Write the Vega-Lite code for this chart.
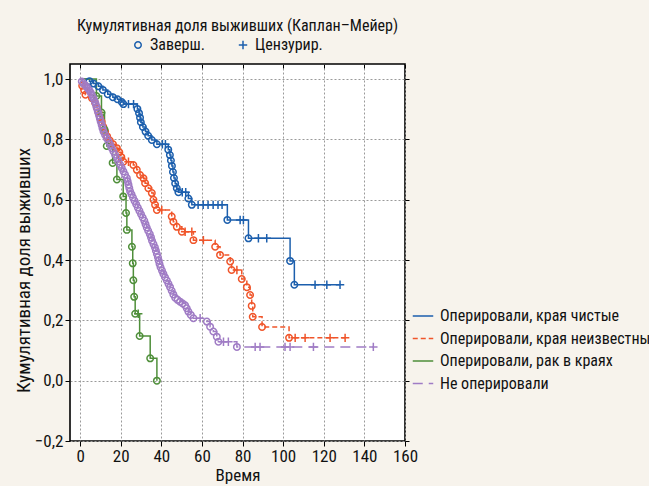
{
  "$schema": "https://vega.github.io/schema/vega-lite/v6.json",
  "width": 335,
  "height": 377,
  "autosize": {"type": "none"},
  "padding": {"left": 70, "top": 64, "right": 244, "bottom": 45},
  "background": "#f7f3ec",
  "config": {
    "font": "Roboto Condensed, Roboto, sans-serif",
    "view": {"fill": "#ffffff", "stroke": "#000000", "strokeWidth": 1.6},
    "axis": {
      "domain": false,
      "tickSize": 5,
      "tickColor": "#000000",
      "tickWidth": 1,
      "labelFontSize": 17,
      "labelColor": "#111111",
      "labelPadding": 2,
      "labelOverlap": false,
      "labelFlush": false,
      "titleFontSize": 17,
      "titleFontWeight": "normal",
      "titleColor": "#111111",
      "gridColor": "#9a9a9a",
      "gridDash": [2, 2],
      "gridWidth": 1
    }
  },
  "title": {
    "text": "Кумулятивная доля выживших (Каплан–Мейер)",
    "fontSize": 16,
    "fontWeight": "normal",
    "color": "#111111",
    "anchor": "middle",
    "offset": 3
  },
  "data": {
    "values": [
      {"g":"A","t":0,"s":1,"k":"s"},
      {"g":"A","t":4.6,"s":0.993,"k":"e"},
      {"g":"A","t":6.6,"s":0.985,"k":"e"},
      {"g":"A","t":9.0,"s":0.976,"k":"e"},
      {"g":"A","t":11.2,"s":0.964,"k":"e"},
      {"g":"A","t":13.6,"s":0.95,"k":"e"},
      {"g":"A","t":16.1,"s":0.94,"k":"e"},
      {"g":"A","t":18.4,"s":0.933,"k":"e"},
      {"g":"A","t":20.5,"s":0.924,"k":"e"},
      {"g":"A","t":21.3,"s":0.917,"k":"e"},
      {"g":"A","t":23.8,"s":0.917,"k":"c"},
      {"g":"A","t":26.3,"s":0.917,"k":"c"},
      {"g":"A","t":28.2,"s":0.901,"k":"e"},
      {"g":"A","t":29.0,"s":0.887,"k":"e"},
      {"g":"A","t":29.5,"s":0.872,"k":"e"},
      {"g":"A","t":29.9,"s":0.857,"k":"e"},
      {"g":"A","t":30.9,"s":0.841,"k":"e"},
      {"g":"A","t":32.2,"s":0.826,"k":"e"},
      {"g":"A","t":33.5,"s":0.812,"k":"e"},
      {"g":"A","t":35.3,"s":0.798,"k":"e"},
      {"g":"A","t":37.8,"s":0.784,"k":"e"},
      {"g":"A","t":40.5,"s":0.784,"k":"c"},
      {"g":"A","t":42.0,"s":0.784,"k":"c"},
      {"g":"A","t":43.4,"s":0.766,"k":"e"},
      {"g":"A","t":44.2,"s":0.748,"k":"e"},
      {"g":"A","t":44.7,"s":0.73,"k":"e"},
      {"g":"A","t":45.2,"s":0.712,"k":"e"},
      {"g":"A","t":45.7,"s":0.692,"k":"e"},
      {"g":"A","t":46.2,"s":0.672,"k":"e"},
      {"g":"A","t":46.8,"s":0.654,"k":"e"},
      {"g":"A","t":47.6,"s":0.638,"k":"e"},
      {"g":"A","t":48.4,"s":0.625,"k":"e"},
      {"g":"A","t":50.3,"s":0.625,"k":"c"},
      {"g":"A","t":52.0,"s":0.625,"k":"c"},
      {"g":"A","t":53.3,"s":0.604,"k":"e"},
      {"g":"A","t":55.0,"s":0.583,"k":"e"},
      {"g":"A","t":58.1,"s":0.583,"k":"c"},
      {"g":"A","t":60.6,"s":0.583,"k":"c"},
      {"g":"A","t":63.0,"s":0.583,"k":"c"},
      {"g":"A","t":65.5,"s":0.583,"k":"c"},
      {"g":"A","t":67.9,"s":0.583,"k":"c"},
      {"g":"A","t":69.9,"s":0.583,"k":"c"},
      {"g":"A","t":72.5,"s":0.533,"k":"e"},
      {"g":"A","t":78.8,"s":0.533,"k":"c"},
      {"g":"A","t":80.4,"s":0.533,"k":"c"},
      {"g":"A","t":82.9,"s":0.472,"k":"e"},
      {"g":"A","t":87.8,"s":0.472,"k":"c"},
      {"g":"A","t":91.9,"s":0.472,"k":"c"},
      {"g":"A","t":103.4,"s":0.397,"k":"e"},
      {"g":"A","t":105.5,"s":0.318,"k":"e"},
      {"g":"A","t":115.7,"s":0.318,"k":"c"},
      {"g":"A","t":121.5,"s":0.318,"k":"c"},
      {"g":"A","t":128.0,"s":0.318,"k":"c"},

      {"g":"B","t":0,"s":1,"k":"s"},
      {"g":"B","t":1.0,"s":0.978,"k":"e"},
      {"g":"B","t":2.0,"s":0.963,"k":"e"},
      {"g":"B","t":2.6,"s":0.948,"k":"e"},
      {"g":"B","t":5.8,"s":0.937,"k":"e"},
      {"g":"B","t":7.3,"s":0.922,"k":"e"},
      {"g":"B","t":8.2,"s":0.906,"k":"e"},
      {"g":"B","t":9.0,"s":0.89,"k":"e"},
      {"g":"B","t":9.8,"s":0.874,"k":"e"},
      {"g":"B","t":10.6,"s":0.858,"k":"e"},
      {"g":"B","t":11.4,"s":0.842,"k":"e"},
      {"g":"B","t":12.3,"s":0.826,"k":"e"},
      {"g":"B","t":13.3,"s":0.81,"k":"e"},
      {"g":"B","t":14.6,"s":0.796,"k":"e"},
      {"g":"B","t":16.2,"s":0.784,"k":"e"},
      {"g":"B","t":18.1,"s":0.771,"k":"e"},
      {"g":"B","t":19.3,"s":0.757,"k":"e"},
      {"g":"B","t":20.3,"s":0.741,"k":"e"},
      {"g":"B","t":21.3,"s":0.726,"k":"e"},
      {"g":"B","t":23.8,"s":0.726,"k":"c"},
      {"g":"B","t":26.2,"s":0.715,"k":"e"},
      {"g":"B","t":27.9,"s":0.699,"k":"e"},
      {"g":"B","t":29.5,"s":0.682,"k":"e"},
      {"g":"B","t":31.2,"s":0.671,"k":"e"},
      {"g":"B","t":32.0,"s":0.655,"k":"e"},
      {"g":"B","t":33.6,"s":0.638,"k":"e"},
      {"g":"B","t":35.3,"s":0.622,"k":"e"},
      {"g":"B","t":36.1,"s":0.6,"k":"e"},
      {"g":"B","t":36.9,"s":0.583,"k":"e"},
      {"g":"B","t":37.8,"s":0.566,"k":"e"},
      {"g":"B","t":40.2,"s":0.566,"k":"c"},
      {"g":"B","t":45.1,"s":0.544,"k":"e"},
      {"g":"B","t":45.9,"s":0.527,"k":"e"},
      {"g":"B","t":47.6,"s":0.51,"k":"e"},
      {"g":"B","t":50.1,"s":0.494,"k":"e"},
      {"g":"B","t":51.7,"s":0.494,"k":"c"},
      {"g":"B","t":55.0,"s":0.494,"k":"c"},
      {"g":"B","t":55.8,"s":0.466,"k":"e"},
      {"g":"B","t":60.7,"s":0.466,"k":"c"},
      {"g":"B","t":66.5,"s":0.444,"k":"e"},
      {"g":"B","t":68.9,"s":0.417,"k":"e"},
      {"g":"B","t":73.9,"s":0.395,"k":"e"},
      {"g":"B","t":74.6,"s":0.367,"k":"e"},
      {"g":"B","t":77.2,"s":0.367,"k":"c"},
      {"g":"B","t":79.6,"s":0.337,"k":"e"},
      {"g":"B","t":82.1,"s":0.31,"k":"e"},
      {"g":"B","t":83.7,"s":0.284,"k":"e"},
      {"g":"B","t":84.5,"s":0.248,"k":"e"},
      {"g":"B","t":85.0,"s":0.212,"k":"e"},
      {"g":"B","t":89.6,"s":0.178,"k":"e"},
      {"g":"B","t":102.9,"s":0.142,"k":"e"},
      {"g":"B","t":105.9,"s":0.142,"k":"c"},
      {"g":"B","t":110.8,"s":0.142,"k":"c"},
      {"g":"B","t":123.1,"s":0.142,"k":"c"},
      {"g":"B","t":130.5,"s":0.142,"k":"c"},

      {"g":"C","t":0,"s":1,"k":"s"},
      {"g":"C","t":8.0,"s":0.944,"k":"e"},
      {"g":"C","t":10.5,"s":0.889,"k":"e"},
      {"g":"C","t":12.0,"s":0.833,"k":"e"},
      {"g":"C","t":13.1,"s":0.778,"k":"e"},
      {"g":"C","t":16.0,"s":0.722,"k":"e"},
      {"g":"C","t":18.1,"s":0.667,"k":"e"},
      {"g":"C","t":21.2,"s":0.611,"k":"e"},
      {"g":"C","t":22.6,"s":0.556,"k":"e"},
      {"g":"C","t":23.0,"s":0.5,"k":"e"},
      {"g":"C","t":25.5,"s":0.444,"k":"e"},
      {"g":"C","t":25.9,"s":0.389,"k":"e"},
      {"g":"C","t":26.2,"s":0.333,"k":"e"},
      {"g":"C","t":26.6,"s":0.278,"k":"e"},
      {"g":"C","t":27.1,"s":0.222,"k":"e"},
      {"g":"C","t":28.6,"s":0.222,"k":"c"},
      {"g":"C","t":29.3,"s":0.148,"k":"e"},
      {"g":"C","t":34.5,"s":0.074,"k":"e"},
      {"g":"C","t":37.8,"s":0.0,"k":"e"},

      {"g":"D","t":0,"s":1,"k":"s"},
      {"g":"D","t":0.8,"s":0.992,"k":"e"},
      {"g":"D","t":1.6,"s":0.986,"k":"e"},
      {"g":"D","t":2.4,"s":0.98,"k":"e"},
      {"g":"D","t":3.2,"s":0.974,"k":"e"},
      {"g":"D","t":3.9,"s":0.968,"k":"e"},
      {"g":"D","t":4.6,"s":0.962,"k":"e"},
      {"g":"D","t":5.2,"s":0.955,"k":"e"},
      {"g":"D","t":5.8,"s":0.948,"k":"e"},
      {"g":"D","t":6.3,"s":0.94,"k":"e"},
      {"g":"D","t":6.8,"s":0.932,"k":"e"},
      {"g":"D","t":7.3,"s":0.924,"k":"e"},
      {"g":"D","t":7.7,"s":0.916,"k":"e"},
      {"g":"D","t":8.1,"s":0.907,"k":"e"},
      {"g":"D","t":8.5,"s":0.898,"k":"e"},
      {"g":"D","t":8.9,"s":0.889,"k":"e"},
      {"g":"D","t":9.3,"s":0.879,"k":"e"},
      {"g":"D","t":9.7,"s":0.869,"k":"e"},
      {"g":"D","t":10.1,"s":0.859,"k":"e"},
      {"g":"D","t":10.6,"s":0.848,"k":"e"},
      {"g":"D","t":11.0,"s":0.837,"k":"e"},
      {"g":"D","t":11.5,"s":0.826,"k":"e"},
      {"g":"D","t":12.3,"s":0.815,"k":"e"},
      {"g":"D","t":13.1,"s":0.804,"k":"e"},
      {"g":"D","t":14.0,"s":0.793,"k":"e"},
      {"g":"D","t":14.8,"s":0.782,"k":"e"},
      {"g":"D","t":15.6,"s":0.771,"k":"e"},
      {"g":"D","t":16.4,"s":0.76,"k":"e"},
      {"g":"D","t":17.2,"s":0.749,"k":"e"},
      {"g":"D","t":18.1,"s":0.738,"k":"e"},
      {"g":"D","t":18.9,"s":0.727,"k":"e"},
      {"g":"D","t":19.7,"s":0.716,"k":"e"},
      {"g":"D","t":20.5,"s":0.705,"k":"e"},
      {"g":"D","t":21.3,"s":0.694,"k":"e"},
      {"g":"D","t":22.1,"s":0.683,"k":"e"},
      {"g":"D","t":23.0,"s":0.672,"k":"e"},
      {"g":"D","t":23.4,"s":0.661,"k":"e"},
      {"g":"D","t":23.8,"s":0.65,"k":"e"},
      {"g":"D","t":24.2,"s":0.639,"k":"e"},
      {"g":"D","t":24.6,"s":0.628,"k":"e"},
      {"g":"D","t":25.3,"s":0.618,"k":"e"},
      {"g":"D","t":26.0,"s":0.607,"k":"e"},
      {"g":"D","t":26.8,"s":0.596,"k":"e"},
      {"g":"D","t":27.6,"s":0.585,"k":"e"},
      {"g":"D","t":28.4,"s":0.574,"k":"e"},
      {"g":"D","t":29.2,"s":0.563,"k":"e"},
      {"g":"D","t":30.0,"s":0.552,"k":"e"},
      {"g":"D","t":30.8,"s":0.541,"k":"e"},
      {"g":"D","t":31.6,"s":0.53,"k":"e"},
      {"g":"D","t":32.2,"s":0.519,"k":"e"},
      {"g":"D","t":32.8,"s":0.508,"k":"e"},
      {"g":"D","t":33.5,"s":0.497,"k":"e"},
      {"g":"D","t":34.3,"s":0.486,"k":"e"},
      {"g":"D","t":34.9,"s":0.475,"k":"e"},
      {"g":"D","t":35.4,"s":0.464,"k":"e"},
      {"g":"D","t":36.1,"s":0.453,"k":"e"},
      {"g":"D","t":36.8,"s":0.442,"k":"e"},
      {"g":"D","t":37.3,"s":0.431,"k":"e"},
      {"g":"D","t":37.8,"s":0.42,"k":"e"},
      {"g":"D","t":38.3,"s":0.409,"k":"e"},
      {"g":"D","t":38.7,"s":0.398,"k":"e"},
      {"g":"D","t":39.1,"s":0.387,"k":"e"},
      {"g":"D","t":39.6,"s":0.376,"k":"e"},
      {"g":"D","t":40.3,"s":0.365,"k":"e"},
      {"g":"D","t":41.0,"s":0.354,"k":"e"},
      {"g":"D","t":41.8,"s":0.343,"k":"e"},
      {"g":"D","t":42.7,"s":0.332,"k":"e"},
      {"g":"D","t":43.5,"s":0.321,"k":"e"},
      {"g":"D","t":44.3,"s":0.31,"k":"e"},
      {"g":"D","t":45.1,"s":0.298,"k":"e"},
      {"g":"D","t":45.9,"s":0.286,"k":"e"},
      {"g":"D","t":46.8,"s":0.275,"k":"e"},
      {"g":"D","t":48.0,"s":0.268,"k":"e"},
      {"g":"D","t":49.2,"s":0.262,"k":"e"},
      {"g":"D","t":50.5,"s":0.256,"k":"e"},
      {"g":"D","t":51.7,"s":0.25,"k":"e"},
      {"g":"D","t":52.5,"s":0.24,"k":"e"},
      {"g":"D","t":53.3,"s":0.229,"k":"e"},
      {"g":"D","t":54.5,"s":0.218,"k":"e"},
      {"g":"D","t":55.8,"s":0.207,"k":"e"},
      {"g":"D","t":59.1,"s":0.207,"k":"c"},
      {"g":"D","t":62.4,"s":0.196,"k":"e"},
      {"g":"D","t":64.0,"s":0.179,"k":"e"},
      {"g":"D","t":65.6,"s":0.163,"k":"e"},
      {"g":"D","t":67.3,"s":0.146,"k":"e"},
      {"g":"D","t":68.1,"s":0.129,"k":"e"},
      {"g":"D","t":70.6,"s":0.129,"k":"c"},
      {"g":"D","t":73.0,"s":0.129,"k":"c"},
      {"g":"D","t":77.2,"s":0.112,"k":"e"},
      {"g":"D","t":86.2,"s":0.112,"k":"c"},
      {"g":"D","t":88.6,"s":0.112,"k":"c"},
      {"g":"D","t":100.9,"s":0.112,"k":"c"},
      {"g":"D","t":103.4,"s":0.112,"k":"c"},
      {"g":"D","t":114.9,"s":0.112,"k":"c"},
      {"g":"D","t":144.4,"s":0.112,"k":"c"}
    ]
  },
  "encoding": {
    "x": {
      "field": "t",
      "type": "quantitative",
      "scale": {"domain": [-5, 160], "nice": false, "zero": false},
      "axis": {"values": [0, 20, 40, 60, 80, 100, 120, 140, 160], "title": "Время", "titlePadding": 3}
    },
    "y": {
      "field": "s",
      "type": "quantitative",
      "scale": {"domain": [-0.2, 1.05], "nice": false, "zero": false},
      "axis": {
        "values": [-0.2, 0, 0.2, 0.4, 0.6, 0.8, 1.0],
        "labelExpr": "replace(format(datum.value, '.1f'), '.', ',')",
        "title": "Кумулятивная доля выживших",
        "titleFontSize": 19,
        "titlePadding": 1,
        "titleY": 206
      }
    }
  },
  "layer": [
    {
      "mark": {"type": "line", "interpolate": "step-after", "strokeWidth": 1.5},
      "encoding": {
        "color": {
          "field": "g",
          "type": "nominal",
          "scale": {"domain": ["A", "B", "C", "D"], "range": ["#1c5fad", "#f0552a", "#4f8f3a", "#a07cc5"]},
          "legend": {
            "title": null,
            "orient": "none",
            "legendX": 342,
            "legendY": 241,
            "symbolType": "stroke",
            "symbolSize": 420,
            "symbolStrokeWidth": 1.5,
            "labelFontSize": 16,
            "labelColor": "#111111",
            "labelLimit": 400,
            "labelOffset": 6,
            "rowPadding": 3.5,
            "labelExpr": "datum.label == 'A' ? 'Оперировали, края чистые' : datum.label == 'B' ? 'Оперировали, края неизвестны' : datum.label == 'C' ? 'Оперировали, рак в краях' : 'Не оперировали'"
          }
        },
        "strokeDash": {
          "field": "g",
          "type": "nominal",
          "scale": {"domain": ["A", "B", "C", "D"], "range": [[1, 0], [5, 3], [1, 0], [10, 6]]}
        }
      }
    },
    {
      "transform": [{"filter": "datum.k != 's'"}],
      "mark": {"type": "point", "filled": false, "opacity": 1, "strokeWidth": 1.5, "size": 42},
      "encoding": {
        "x": {"field": "t", "type": "quantitative", "axis": null},
        "y": {"field": "s", "type": "quantitative", "axis": null},
        "color": {"field": "g", "type": "nominal", "legend": null},
        "shape": {
          "field": "k",
          "type": "nominal",
          "scale": {"domain": ["e", "c"], "range": ["circle", "M-1.3,0L1.3,0M0,-1.3L0,1.3"]},
          "legend": {
            "title": null,
            "orient": "none",
            "direction": "horizontal",
            "legendX": 60,
            "legendY": -27,
            "symbolStrokeColor": "#1c5fad",
            "symbolFillColor": "transparent",
            "symbolStrokeWidth": 1.5,
            "symbolSize": 42,
            "labelFontSize": 16,
            "labelColor": "#111111",
            "columnPadding": 30,
            "labelExpr": "datum.label == 'e' ? 'Заверш.' : 'Цензурир.'"
          }
        }
      }
    },
    {
      "transform": [{"filter": "datum.k == 's'"}],
      "mark": {"type": "point", "opacity": 0},
      "encoding": {
        "x": {"field": "t", "type": "quantitative", "axis": {"orient": "top", "values": [0, 20, 40, 60, 80, 100, 120, 140, 160], "labels": false, "title": null, "grid": false, "tickSize": -4}},
        "y": {"field": "s", "type": "quantitative", "axis": {"orient": "right", "values": [-0.2, 0, 0.2, 0.4, 0.6, 0.8, 1.0], "labels": false, "title": null, "grid": false, "tickSize": 4}}
      }
    }
  ],
  "resolve": {"axis": {"x": "independent", "y": "independent"}}
}
